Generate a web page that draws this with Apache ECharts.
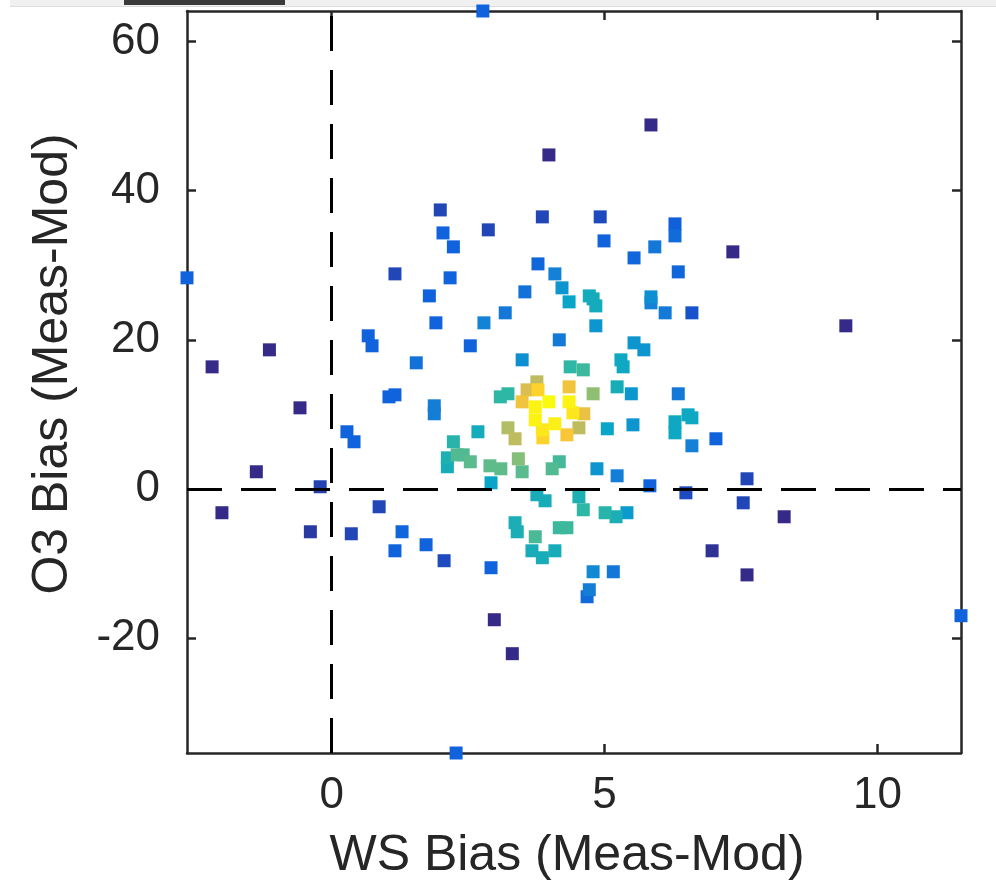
<!DOCTYPE html>
<html>
<head>
<meta charset="utf-8">
<script src="https://cdn.jsdelivr.net/npm/echarts@6/dist/echarts.min.js"></script>
<style>
html,body{margin:0;padding:0;background:#fff;}
#chart{width:996px;height:884px;}
</style>
</head>
<body>
<div id="chart"></div>
<script>
// WS bias (Meas-Mod), x values
const wsBias = [2.77,5.85,3.98,1.99,2.04,2.23,2.87,3.86,4.92,4.99,
6.29,6.29,5.92,5.54,3.78,2.17,1.16,-2.65,1.79,1.91,
0.67,0.74,1.55,-1.14,-2.19,1.05,1.16,4.09,4.22,4.35,
4.72,4.79,4.84,3.54,5.85,5.85,6.11,6.60,6.35,3.18,
2.79,2.54,4.17,4.84,3.49,5.54,5.72,4.37,4.61,5.30,
5.34,3.76,4.35,5.23,7.35,9.42,3.58,3.78,4.79,5.49,
6.35,3.09,3.23,3.49,3.73,3.73,3.98,4.35,4.42,4.62,
4.09,3.86,3.87,4.31,4.53,2.68,3.23,3.36,5.05,5.52,
6.29,6.29,6.53,6.60,6.60,1.88,1.88,0.28,0.41,2.23,
2.12,2.12,2.30,2.41,2.54,2.90,3.10,3.42,3.49,4.04,
4.17,4.86,5.23,2.92,5.83,6.49,3.76,3.91,4.53,4.61,
5.01,5.21,5.41,3.36,3.40,4.17,4.31,3.73,3.67,3.86,
4.09,2.06,2.92,4.79,5.16,4.72,4.68,2.98,3.31,2.28,
6.97,-0.58,-1.38,-0.21,-2.01,-0.39,0.36,0.87,1.29,1.16,
1.73,7.04,7.61,7.54,8.29,7.61,11.53];
// O3 bias (Meas-Mod), y values
const o3Bias = [64.07,48.8,44.78,37.41,34.33,32.46,34.74,36.48,36.48,33.26,
35.54,33.93,32.46,30.98,30.18,28.31,28.84,28.31,25.89,22.28,
20.54,19.2,16.92,18.66,16.38,12.36,12.63,28.84,26.97,25.09,
25.89,25.49,24.55,26.43,25.76,24.96,23.62,23.62,29.11,23.62,
22.28,19.2,20.0,21.88,17.32,19.6,18.66,16.38,15.98,17.32,
16.38,14.37,13.7,13.7,31.79,21.88,13.3,13.3,12.77,12.77,
12.77,12.36,12.77,11.69,11.02,9.28,11.69,11.69,10.22,10.09,
8.75,7.94,6.87,7.27,8.21,7.68,8.21,6.74,8.08,8.61,
9.02,7.54,9.95,9.55,5.8,11.16,10.09,7.68,6.34,6.34,
4.19,2.99,4.59,4.59,3.66,3.12,2.72,4.06,2.32,2.72,
3.66,2.72,1.78,0.84,0.44,-0.5,-0.76,-1.57,-1.03,-2.77,
-3.17,-3.71,-3.17,-4.51,-5.72,-5.18,-5.18,-6.39,-8.27,-9.2,
-8.27,-9.6,-10.54,-11.08,-11.08,-13.49,-14.43,-17.51,-22.06,-35.37,
-8.27,10.89,2.32,0.31,-3.17,-5.72,-5.99,-2.37,-5.72,-8.27,
-7.46,6.74,1.38,-1.84,-3.71,-11.5,-16.97];
// relative point density (0..1)
const density = [0.15,0,0,0.07,0.15,0.15,0.07,0.07,0.08,0.15,
0.14,0.18,0.22,0.16,0.16,0.15,0.07,0.15,0.15,0.15,
0.15,0.15,0.2,0,0,0.15,0.15,0.25,0.32,0.38,
0.42,0.42,0.42,0.2,0.3,0.25,0.23,0.1,0.16,0.22,
0.26,0.15,0.23,0.32,0.3,0.32,0.32,0.5,0.52,0.4,
0.4,0.72,0.84,0.43,0,0,0.78,0.9,0.64,0.33,
0.22,0.5,0.5,0.84,0.98,0.98,1.0,0.98,0.95,0.82,
0.97,0.95,0.9,0.86,0.72,0.42,0.7,0.72,0.38,0.32,
0.4,0.4,0.4,0.4,0.25,0.24,0.24,0.15,0.15,0.48,
0.45,0.43,0.55,0.55,0.56,0.57,0.57,0.62,0.56,0.55,
0.53,0.32,0.24,0.38,0.15,0.08,0.43,0.43,0.45,0.5,
0.48,0.44,0.34,0.44,0.44,0.52,0.52,0.54,0.43,0.43,
0.43,0.08,0.15,0.28,0.22,0.24,0.17,0,0,0.15,
0.02,0,0,0.06,0,0.04,0.07,0.07,0.16,0.15,
0.15,0.15,0.07,0.07,0,0,0.15];
const xTicks = [0, 5, 10];
const yTicks = [-20, 0, 20, 40, 60];
const xTitle = 'WS Bias (Meas-Mod)';
const yTitle = 'O3 Bias (Meas-Mod)';
const parula = ['#352A87','#0F5CDD','#1481D6','#06A4CA','#2EB7A4','#87BF77','#D1BB59','#FEC832','#F9FB0E'];

const points = wsBias.map((x, i) => [x, o3Bias[i], density[i]])
  .sort((a, b) => a[2] - b[2]);
const xMin = Math.min(...wsBias), xMax = Math.max(...wsBias);
const yMin = Math.min(...o3Bias), yMax = Math.max(...o3Bias);

const FONT = '"Liberation Sans", Arial, Helvetica, sans-serif';
const TXT = '#262626';
const axisLine = { show: true, onZero: false, lineStyle: { color: TXT, width: 2.5 } };
const tick = (vals) => ({ show: true, inside: true, length: 9, customValues: vals, lineStyle: { color: TXT, width: 2.5 } });

const chart = echarts.init(document.getElementById('chart'), null, { renderer: 'canvas' });
chart.setOption({
  animation: false,
  backgroundColor: '#ffffff',
  grid: { left: 187, right: 35, top: 11, bottom: 131, containLabel: false },
  xAxis: [
    { type: 'value', position: 'bottom', min: xMin, max: xMax,
      axisLine, axisTick: tick(xTicks), splitLine: { show: false },
      axisLabel: { show: true, customValues: xTicks, margin: 21, color: TXT, fontSize: 44, fontFamily: FONT } },
    { type: 'value', position: 'top', min: xMin, max: xMax,
      axisLine, axisTick: tick(xTicks), splitLine: { show: false }, axisLabel: { show: false } }
  ],
  yAxis: [
    { type: 'value', position: 'left', min: yMin, max: yMax,
      axisLine, axisTick: tick(yTicks), splitLine: { show: false },
      axisLabel: { show: true, customValues: yTicks, margin: 27, color: TXT, fontSize: 44, fontFamily: FONT } },
    { type: 'value', position: 'right', min: yMin, max: yMax,
      axisLine, axisTick: tick(yTicks), splitLine: { show: false }, axisLabel: { show: false } }
  ],
  visualMap: {
    type: 'continuous', show: false, min: 0, max: 1, dimension: 2, seriesIndex: 0,
    inRange: { color: parula }
  },
  series: [
    { type: 'scatter', xAxisIndex: 0, yAxisIndex: 0, symbol: 'rect', symbolSize: 13,
      data: points, clip: false, z: 2,
      itemStyle: { opacity: 1 },
      emphasis: { disabled: true },
      markLine: {
        silent: true, symbol: ['none', 'none'], label: { show: false }, z: 10,
        lineStyle: { color: '#000000', width: 3, type: [35, 19], opacity: 1 },
        emphasis: { disabled: true },
        data: [{ xAxis: 0 }, { yAxis: 0 }]
      }
    }
  ],
  graphic: [
    { type: 'rect', shape: { x: 10, y: 0, width: 986, height: 6 }, style: { fill: '#f0f0f0' }, silent: true },
    { type: 'rect', shape: { x: 10, y: 6, width: 986, height: 1 }, style: { fill: '#dddddd' }, silent: true },
    { type: 'rect', shape: { x: 124, y: 0, width: 161, height: 5 }, style: { fill: '#3a3a3a' }, silent: true },
    { type: 'text', x: 567, y: 856, style: { text: xTitle, fill: TXT, font: '50px ' + FONT, textAlign: 'center', textVerticalAlign: 'middle' }, silent: true },
    { type: 'text', x: 53, y: 364, rotation: Math.PI / 2, style: { text: yTitle, fill: TXT, font: '50px ' + FONT, textAlign: 'center', textVerticalAlign: 'middle' }, silent: true }
  ]
});
</script>
</body>
</html>
